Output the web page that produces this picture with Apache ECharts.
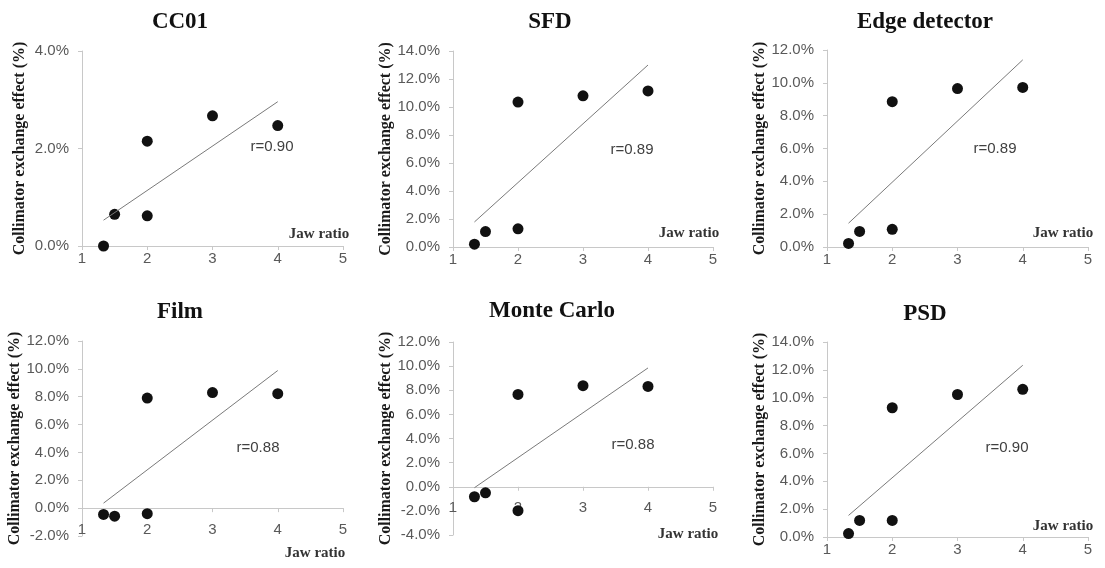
<!DOCTYPE html>
<html>
<head>
<meta charset="utf-8">
<script src="https://cdn.jsdelivr.net/npm/echarts@6/dist/echarts.min.js"></script>
<style>
  html, body { margin: 0; padding: 0; background: #fff; }
  #main { width: 1105px; height: 568px; }
</style>
</head>
<body>
<div id="main"></div>
<script>
var chartDom = document.getElementById('main');
var myChart = echarts.init(chartDom);

// jaw ratio of each measured field (same for every detector)
var jawRatio = [1.33, 1.5, 2, 2, 3, 4];

// collimator exchange effect (%) per detector
var cc01 = [0.0, 0.65, 2.15, 0.62, 2.67, 2.47];
var sfd = [0.2, 1.1, 10.35, 1.3, 10.8, 11.15];
var edgeDet = [0.22, 0.95, 8.85, 1.08, 9.65, 9.72];
var film = [-0.45, -0.58, 7.9, -0.4, 8.3, 8.22];
var monteCarlo = [-0.83, -0.5, 7.65, -1.98, 8.38, 8.32];
var psd = [0.25, 1.19, 9.28, 1.19, 10.23, 10.6];

// linear trend line, value at jaw ratio 1.33 and 4
var trendX = [1.33, 4];
var trendCc01 = [0.53, 2.96];
var trendSfd = [1.79, 13.0];
var trendEdge = [1.45, 11.4];
var trendFilm = [0.36, 9.88];
var trendMc = [-0.08, 9.85];
var trendPsd = [1.55, 12.33];

var titles = ['CC01', 'SFD', 'Edge detector', 'Film', 'Monte Carlo', 'PSD'];
var rValues = ['r=0.90', 'r=0.89', 'r=0.89', 'r=0.88', 'r=0.88', 'r=0.90'];
var yMin = [0, 0, 0, -2, -4, 0];
var yMax = [4, 14, 12, 12, 12, 14];

var values = [cc01, sfd, edgeDet, film, monteCarlo, psd];
var trends = [trendCc01, trendSfd, trendEdge, trendFilm, trendMc, trendPsd];

// layout of each panel
var grids = [
    {left: 82, top: 51, width: 261, height: 195},
    {left: 453, top: 51, width: 260, height: 196},
    {left: 827, top: 50, width: 261, height: 197},
    {left: 82, top: 341, width: 261, height: 195},
    {left: 453, top: 342, width: 260, height: 193},
    {left: 827, top: 342, width: 261, height: 195}
];
var titlePos = [[180, 22], [550, 22], [925, 22], [180, 312], [552, 311], [925, 314]];
var rPos = [[272, 147], [632, 150], [995, 149], [258, 448], [633, 445], [1007, 448]];
var jawPos = [[319, 234], [689, 233], [1063, 233], [315, 553], [688, 534], [1063, 526]];
// x labels sit next to the zero line in Film and Monte Carlo
var xLabelMargin = [5, 5, 5, -14, -35, 5];

var axisColor = '#c8c8c8';
var labelColor = '#595959';

var option = {
    backgroundColor: '#fff',
    animation: false,
    grid: [],
    xAxis: [],
    yAxis: [],
    series: [],
    graphic: []
};

for (var i = 0; i < 6; i++) {
    option.grid.push(grids[i]);
    option.xAxis.push({
        type: 'value',
        gridIndex: i,
        min: 1,
        max: 5,
        interval: 1,
        splitLine: {show: false},
        axisLine: {onZero: true, lineStyle: {color: axisColor, width: 1}},
        axisTick: {show: true, length: 4, lineStyle: {color: axisColor}},
        axisLabel: {
            color: labelColor, fontSize: 15, fontFamily: 'Liberation Sans',
            margin: xLabelMargin[i], hideOverlap: false
        }
    });
    option.yAxis.push({
        type: 'value',
        gridIndex: i,
        min: yMin[i],
        max: yMax[i],
        interval: 2,
        splitLine: {show: false},
        axisLine: {show: true, lineStyle: {color: axisColor, width: 1}},
        axisTick: {show: true, length: 4, lineStyle: {color: axisColor}},
        axisLabel: {
            color: labelColor, fontSize: 15, fontFamily: 'Liberation Sans', margin: 13,
            formatter: function (v) { return v.toFixed(1) + '%'; }
        },
        name: 'Collimator exchange effect (%)',
        nameLocation: 'middle',
        nameGap: 54,
        nameTextStyle: {color: '#1a1a1a', fontSize: 16, fontWeight: 'bold', fontFamily: 'Liberation Serif'}
    });

    var pts = [];
    for (var k = 0; k < jawRatio.length; k++) {
        pts.push([jawRatio[k], values[i][k]]);
    }
    option.series.push({
        type: 'line',
        xAxisIndex: i,
        yAxisIndex: i,
        data: [[trendX[0], trends[i][0]], [trendX[1], trends[i][1]]],
        showSymbol: false,
        symbol: 'none',
        lineStyle: {color: '#7a7a7a', width: 1},
        silent: true
    });
    option.series.push({
        type: 'scatter',
        xAxisIndex: i,
        yAxisIndex: i,
        data: pts,
        symbol: 'circle',
        symbolSize: 11,
        itemStyle: {color: '#111', opacity: 1}
    });

    option.graphic.push({
        type: 'text',
        x: titlePos[i][0],
        y: titlePos[i][1],
        style: {
            text: titles[i], fill: '#111', font: 'bold 23px "Liberation Serif"',
            align: 'center', verticalAlign: 'middle'
        }
    });
    option.graphic.push({
        type: 'text',
        x: rPos[i][0],
        y: rPos[i][1],
        style: {
            text: rValues[i], fill: '#404040', font: '15px "Liberation Sans"',
            align: 'center', verticalAlign: 'middle'
        }
    });
    option.graphic.push({
        type: 'text',
        x: jawPos[i][0],
        y: jawPos[i][1],
        style: {
            text: 'Jaw ratio', fill: '#333', font: 'bold 15px "Liberation Serif"',
            align: 'center', verticalAlign: 'middle'
        }
    });
}

option && myChart.setOption(option);
</script>
</body>
</html>
